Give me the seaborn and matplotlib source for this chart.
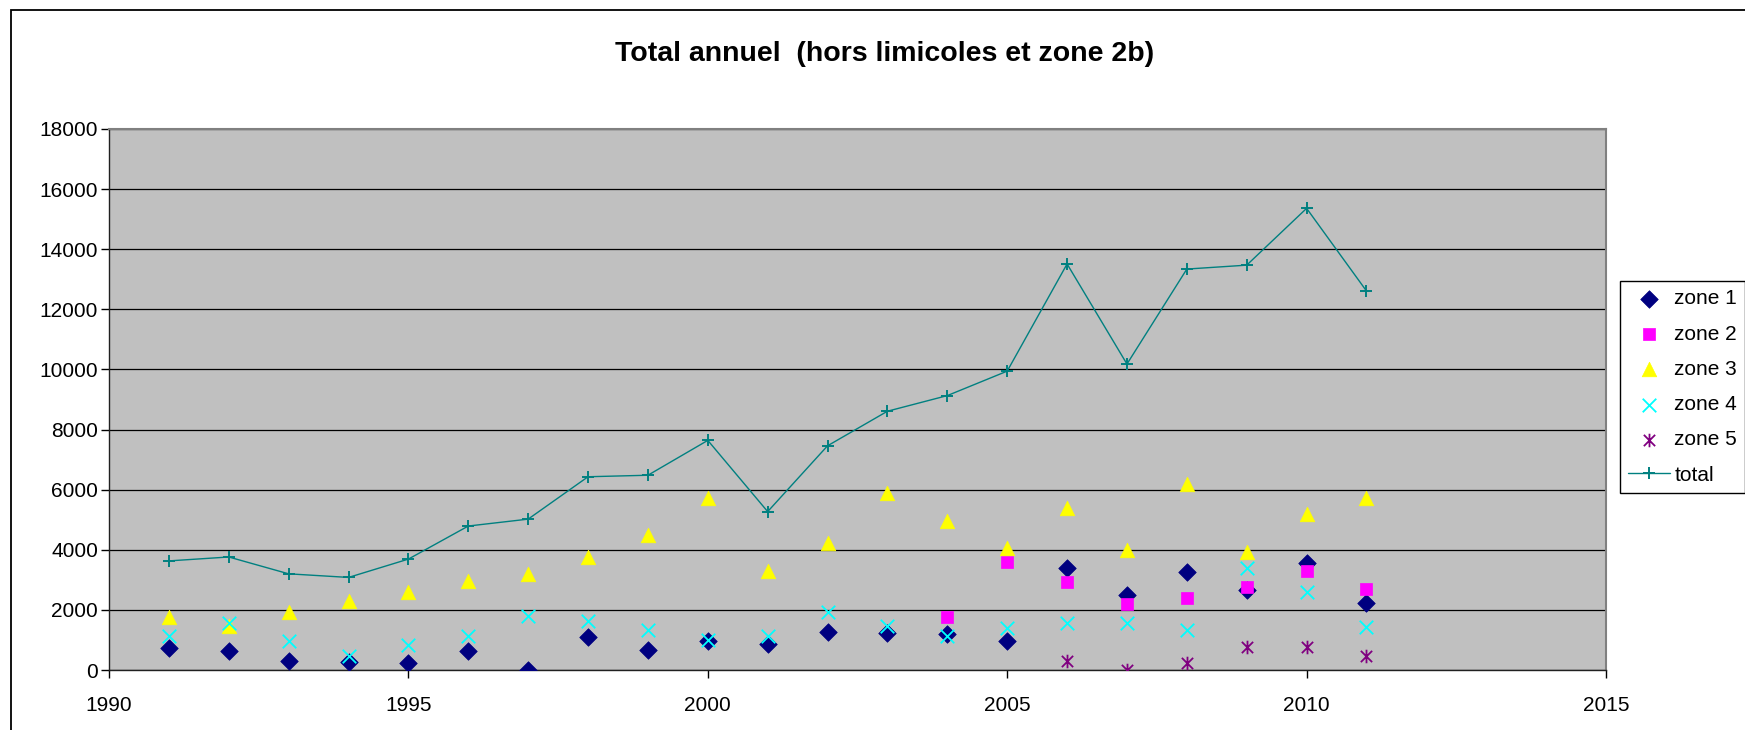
import numpy as np
import pandas as pd
import matplotlib
matplotlib.use("Agg")
import matplotlib.pyplot as plt
from matplotlib.path import Path
from matplotlib.patches import Rectangle
import seaborn as sns

# -----------------------------
# data
# -----------------------------
years = list(range(1991, 2012))
years_zone2 = list(range(2004, 2012))
years_zone5 = list(range(2006, 2012))

zone1 = [720, 640, 290, 260, 230, 640, 0, 1090, 660, 970, 870,
         1260, 1230, 1210, 960, 3380, 2510, 3270, 2660, 3560, 2230]
zone2 = [1780, 3600, 2930, 2210, 2390, 2760, 3300, 2700]
zone3 = [1760, 1460, 1930, 2310, 2610, 2970, 3210, 3760, 4490, 5710, 3280,
         4230, 5880, 4960, 4060, 5390, 3990, 6180, 3930, 5200, 5730]
zone4 = [1140, 1570, 970, 480, 830, 1140, 1810, 1630, 1330, 1010, 1120,
         1930, 1460, 1140, 1390, 1570, 1570, 1320, 3380, 2590, 1440]
zone5 = [290, 0, 230, 780, 780, 480]
total = [3630, 3760, 3200, 3080, 3690, 4790, 5020, 6430, 6480, 7640, 5270,
         7460, 8610, 9130, 9944, 13510, 10180, 13340, 13470, 15360, 12610]

x_ticks = [1990, 1995, 2000, 2005, 2010, 2015]
y_ticks = list(range(0, 18001, 2000))

title = "Total annuel  (hors limicoles et zone 2b)"

# -----------------------------
# style
# -----------------------------
sns.set_style("ticks")
plt.rcParams["font.family"] = ["Liberation Sans", "DejaVu Sans"]
plt.rcParams["text.color"] = "black"

# x with a vertical bar (Excel "star" marker)
star = Path([(-1, -1), (1, 1), (-1, 1), (1, -1), (0, -1.2), (0, 1.2)],
            [Path.MOVETO, Path.LINETO, Path.MOVETO, Path.LINETO, Path.MOVETO, Path.LINETO])

fig = plt.figure(figsize=(17.45, 7.30), dpi=100)
ax = fig.add_axes([109 / 1745, 1 - 670 / 730, (1606 - 109) / 1745, (670 - 129) / 730])
ax.set_facecolor("#C0C0C0")

# scatter series
sns.scatterplot(x=years, y=zone1, marker="D", s=80, color="#000080",
                edgecolor="#000080", linewidth=0.5, label="zone 1", ax=ax, zorder=3)
sns.scatterplot(x=years_zone2, y=zone2, marker="s", s=75, color="#FF00FF",
                edgecolor="#FF00FF", linewidth=0.5, label="zone 2", ax=ax, zorder=3)
sns.scatterplot(x=years, y=zone3, marker="^", s=110, color="#FFFF00",
                edgecolor="#FFFF00", linewidth=0.5, label="zone 3", ax=ax, zorder=3)
sns.scatterplot(x=years, y=zone4, marker="x", s=95, color="#00FFFF",
                linewidth=1.3, label="zone 4", ax=ax, zorder=3)
sns.scatterplot(x=years_zone5, y=zone5, marker=star, s=95, color="#800080",
                edgecolor="#800080", linewidth=1.3, label="zone 5", ax=ax, zorder=3)

# total line
sns.lineplot(x=years, y=total, color="#008080", linewidth=1.0, marker="+",
             markersize=8, markeredgewidth=1.4, markeredgecolor="#008080",
             label="total", ax=ax, zorder=4)

# -----------------------------
# axes
# -----------------------------
ax.set_xlim(1990, 2015)
ax.set_ylim(0, 18000)
ax.set_xticks(x_ticks)
ax.set_yticks(y_ticks)
ax.set_xticklabels([str(t) for t in x_ticks])
ax.tick_params(axis="both", labelsize=15, colors="black", direction="out",
               length=6, width=1)
ax.tick_params(axis="x", pad=13)
ax.tick_params(axis="y", pad=2)
ax.yaxis.grid(True, color="black", linewidth=0.9)
ax.xaxis.grid(False)
ax.set_axisbelow(True)
for side in ["left", "bottom"]:
    ax.spines[side].set_color("#202020")
    ax.spines[side].set_linewidth(1.0)
for side in ["top", "right"]:
    ax.spines[side].set_visible(True)
    ax.spines[side].set_color("#808080")
    ax.spines[side].set_linewidth(1.5)
ax.set_xlabel("")
ax.set_ylabel("")

fig.text(885 / 1745, 1 - 54 / 730, title, ha="center", va="center",
         fontsize=20.5, fontweight="bold", color="black")

# legend
handles, labels = ax.get_legend_handles_labels()
leg = ax.legend(handles, labels, loc="upper left",
                bbox_to_anchor=(1620 / 1745, 1 - 281 / 730),
                bbox_transform=fig.transFigure, fontsize=15, frameon=True,
                fancybox=False, framealpha=1, edgecolor="black",
                labelspacing=0.78, handlelength=2.0, handletextpad=0.2,
                borderpad=0.4, borderaxespad=0, scatterpoints=1)
leg.get_frame().set_linewidth(1.0)
for t in leg.get_texts():
    t.set_color("black")

# outer chart frame (cut off at right and bottom like the original)
fig.add_artist(Rectangle((11 / 1745, -0.1), 1.2, 1.1 - 10 / 730,
                         transform=fig.transFigure, fill=False,
                         edgecolor="black", linewidth=1.3))

fig.savefig("out.png", dpi=100)
plt.close(fig)
